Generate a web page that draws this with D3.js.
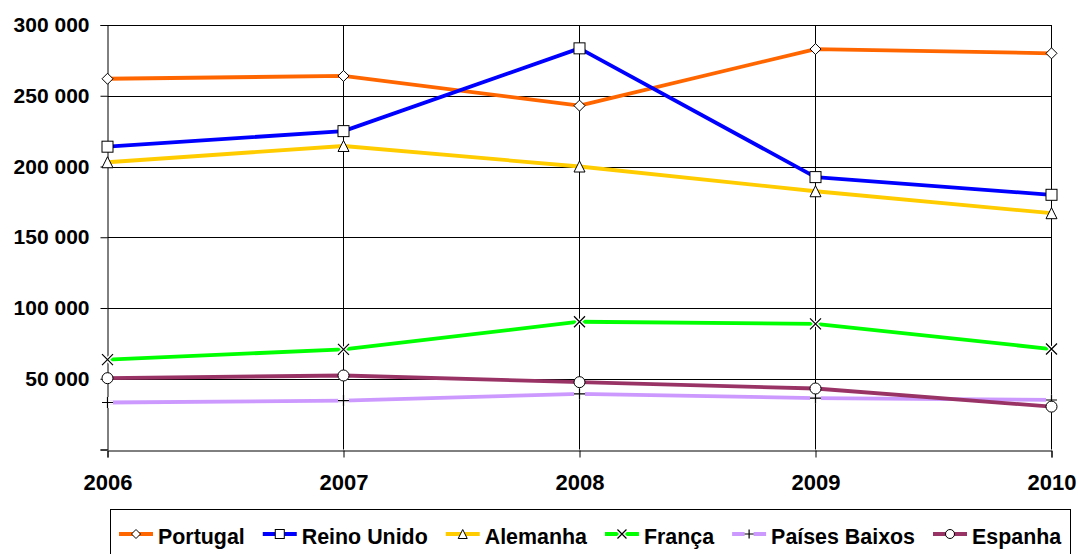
<!DOCTYPE html>
<html>
<head>
<meta charset="utf-8">
<script src="https://cdn.jsdelivr.net/npm/d3@7"></script>
<style>
  body { margin: 0; background: #fff; }
  text { font-family: "Liberation Sans", Arial, sans-serif; font-weight: bold; fill: #000; }
</style>
</head>
<body>
<div id="chart"></div>
<script>
// data
const years = ["2006", "2007", "2008", "2009", "2010"];
const portugal = [262000, 264000, 243000, 283000, 280000];
const reinoUnido = [214000, 225000, 283500, 192500, 180000];
const alemanha = [203000, 214500, 200000, 182500, 167000];
const franca = [63500, 70800, 90300, 88800, 71000];
const paisesBaixos = [33200, 34600, 39300, 36300, 35000];
const espanha = [50400, 52300, 47600, 43100, 30300];
const yTicks = [0, 50000, 100000, 150000, 200000, 250000, 300000];

const series = [
    { name: "Portugal", values: portugal, color: "#FF6600", marker: "diamond" },
    { name: "Reino Unido", values: reinoUnido, color: "#0000FF", marker: "square" },
    { name: "Alemanha", values: alemanha, color: "#FFCC00", marker: "triangle" },
    { name: "França", values: franca, color: "#00FF00", marker: "cross" },
    { name: "Países Baixos", values: paisesBaixos, color: "#CC99FF", marker: "plus" },
    { name: "Espanha", values: espanha, color: "#993366", marker: "circle" },
];

const width = 1079;
const height = 554;

const svg = d3.select("#chart")
    .append("svg")
    .attr("width", width)
    .attr("height", height);

const x = d3.scalePoint()
    .domain(years)
    .range([107.5, 1051.5]);

const y = d3.scaleLinear()
    .domain([0, 300000])
    .range([449.5, 25]);

const fmt = d3.formatLocale({ decimal: ",", thousands: " ", grouping: [3], currency: ["", ""] }).format(",");

// grid lines
svg.append("g")
    .selectAll("line")
    .data(yTicks.slice(1))
    .join("line")
    .attr("x1", x.range()[0])
    .attr("x2", x.range()[1])
    .attr("y1", d => Math.round(y(d)) + 0.5)
    .attr("y2", d => Math.round(y(d)) + 0.5)
    .attr("stroke", "#000")
    .attr("stroke-width", 1);

svg.append("g")
    .selectAll("line")
    .data(years.slice(1))
    .join("line")
    .attr("x1", d => x(d))
    .attr("x2", d => x(d))
    .attr("y1", y(300000))
    .attr("y2", y(0))
    .attr("stroke", "#000")
    .attr("stroke-width", 1);

// axes
const yAxis = svg.append("g")
    .attr("transform", `translate(${x.range()[0]},0)`)
    .call(d3.axisLeft(y)
        .tickValues(yTicks)
        .tickSize(7)
        .tickPadding(11)
        .tickFormat(d => d === 0 ? "" : fmt(d)));
yAxis.selectAll("text").style("font-size", "21px");
yAxis.select(".domain").attr("stroke", "#000");

const xAxis = svg.append("g")
    .attr("transform", `translate(0,${Math.round(y(0)) + 0.5})`)
    .call(d3.axisBottom(x)
        .tickSize(7)
        .tickPadding(17));
xAxis.selectAll("text").style("font-size", "22px");
xAxis.select(".domain").attr("stroke", "#000");

// marker drawing
function drawMarker(g, type, s) {
    const h = s / 2;
    if (type === "diamond") {
        g.append("path").attr("d", `M0,${-h}L${h},0L0,${h}L${-h},0Z`)
            .attr("fill", "#fff").attr("stroke", "#000").attr("stroke-width", 1);
    } else if (type === "square") {
        g.append("rect").attr("x", -h).attr("y", -h).attr("width", s).attr("height", s)
            .attr("fill", "#fff").attr("stroke", "#000").attr("stroke-width", 1);
    } else if (type === "triangle") {
        g.append("path").attr("d", `M0,${-h}L${h},${h}L${-h},${h}Z`)
            .attr("fill", "#fff").attr("stroke", "#000").attr("stroke-width", 1);
    } else if (type === "circle") {
        g.append("circle").attr("r", h)
            .attr("fill", "#fff").attr("stroke", "#000").attr("stroke-width", 1);
    } else if (type === "cross") {
        const d = `M${-h},${-h}L${h},${h}M${h},${-h}L${-h},${h}`;
        g.append("path").attr("d", d).attr("stroke", "#fff").attr("stroke-width", 4);
        g.append("path").attr("d", d).attr("stroke", "#000").attr("stroke-width", 1.2);
    } else if (type === "plus") {
        const d = `M${-h},0L${h},0M0,${-h}L0,${h}`;
        g.append("path").attr("d", d).attr("stroke", "#fff").attr("stroke-width", 4);
        g.append("path").attr("d", d).attr("stroke", "#000").attr("stroke-width", 1.2);
    }
}

const markerSize = { diamond: 11, square: 11, triangle: 11, circle: 11, cross: 11, plus: 11 };

const line = d3.line()
    .x((d, i) => x(years[i]))
    .y(d => y(d));

// series lines and markers
series.forEach(s => {
    const g = svg.append("g");
    g.append("path")
        .datum(s.values)
        .attr("d", line)
        .attr("fill", "none")
        .attr("stroke", s.color)
        .attr("stroke-width", 3.8)
        .attr("stroke-linejoin", "round");
    s.values.forEach((v, i) => {
        const m = g.append("g").attr("transform", `translate(${x(years[i])},${y(v)})`);
        drawMarker(m, s.marker, markerSize[s.marker]);
    });
});

// legend
const legend = svg.append("g");
legend.append("rect")
    .attr("x", 110.5)
    .attr("y", 509.5)
    .attr("width", 960)
    .attr("height", 60)
    .attr("fill", "#fff")
    .attr("stroke", "#000")
    .attr("stroke-width", 1);

let lx = 119;
series.forEach(s => {
    const item = legend.append("g").attr("transform", `translate(${lx},0)`);
    item.append("line")
        .attr("x1", 0).attr("x2", 34)
        .attr("y1", 534).attr("y2", 534)
        .attr("stroke", s.color)
        .attr("stroke-width", 3.8);
    const m = item.append("g").attr("transform", "translate(17,534)");
    drawMarker(m, s.marker, 9);
    const t = item.append("text")
        .attr("x", 39)
        .attr("y", 544)
        .style("font-size", "21.4px")
        .text(s.name);
    lx += 39 + t.node().getComputedTextLength() + 18;
});
</script>
</body>
</html>
